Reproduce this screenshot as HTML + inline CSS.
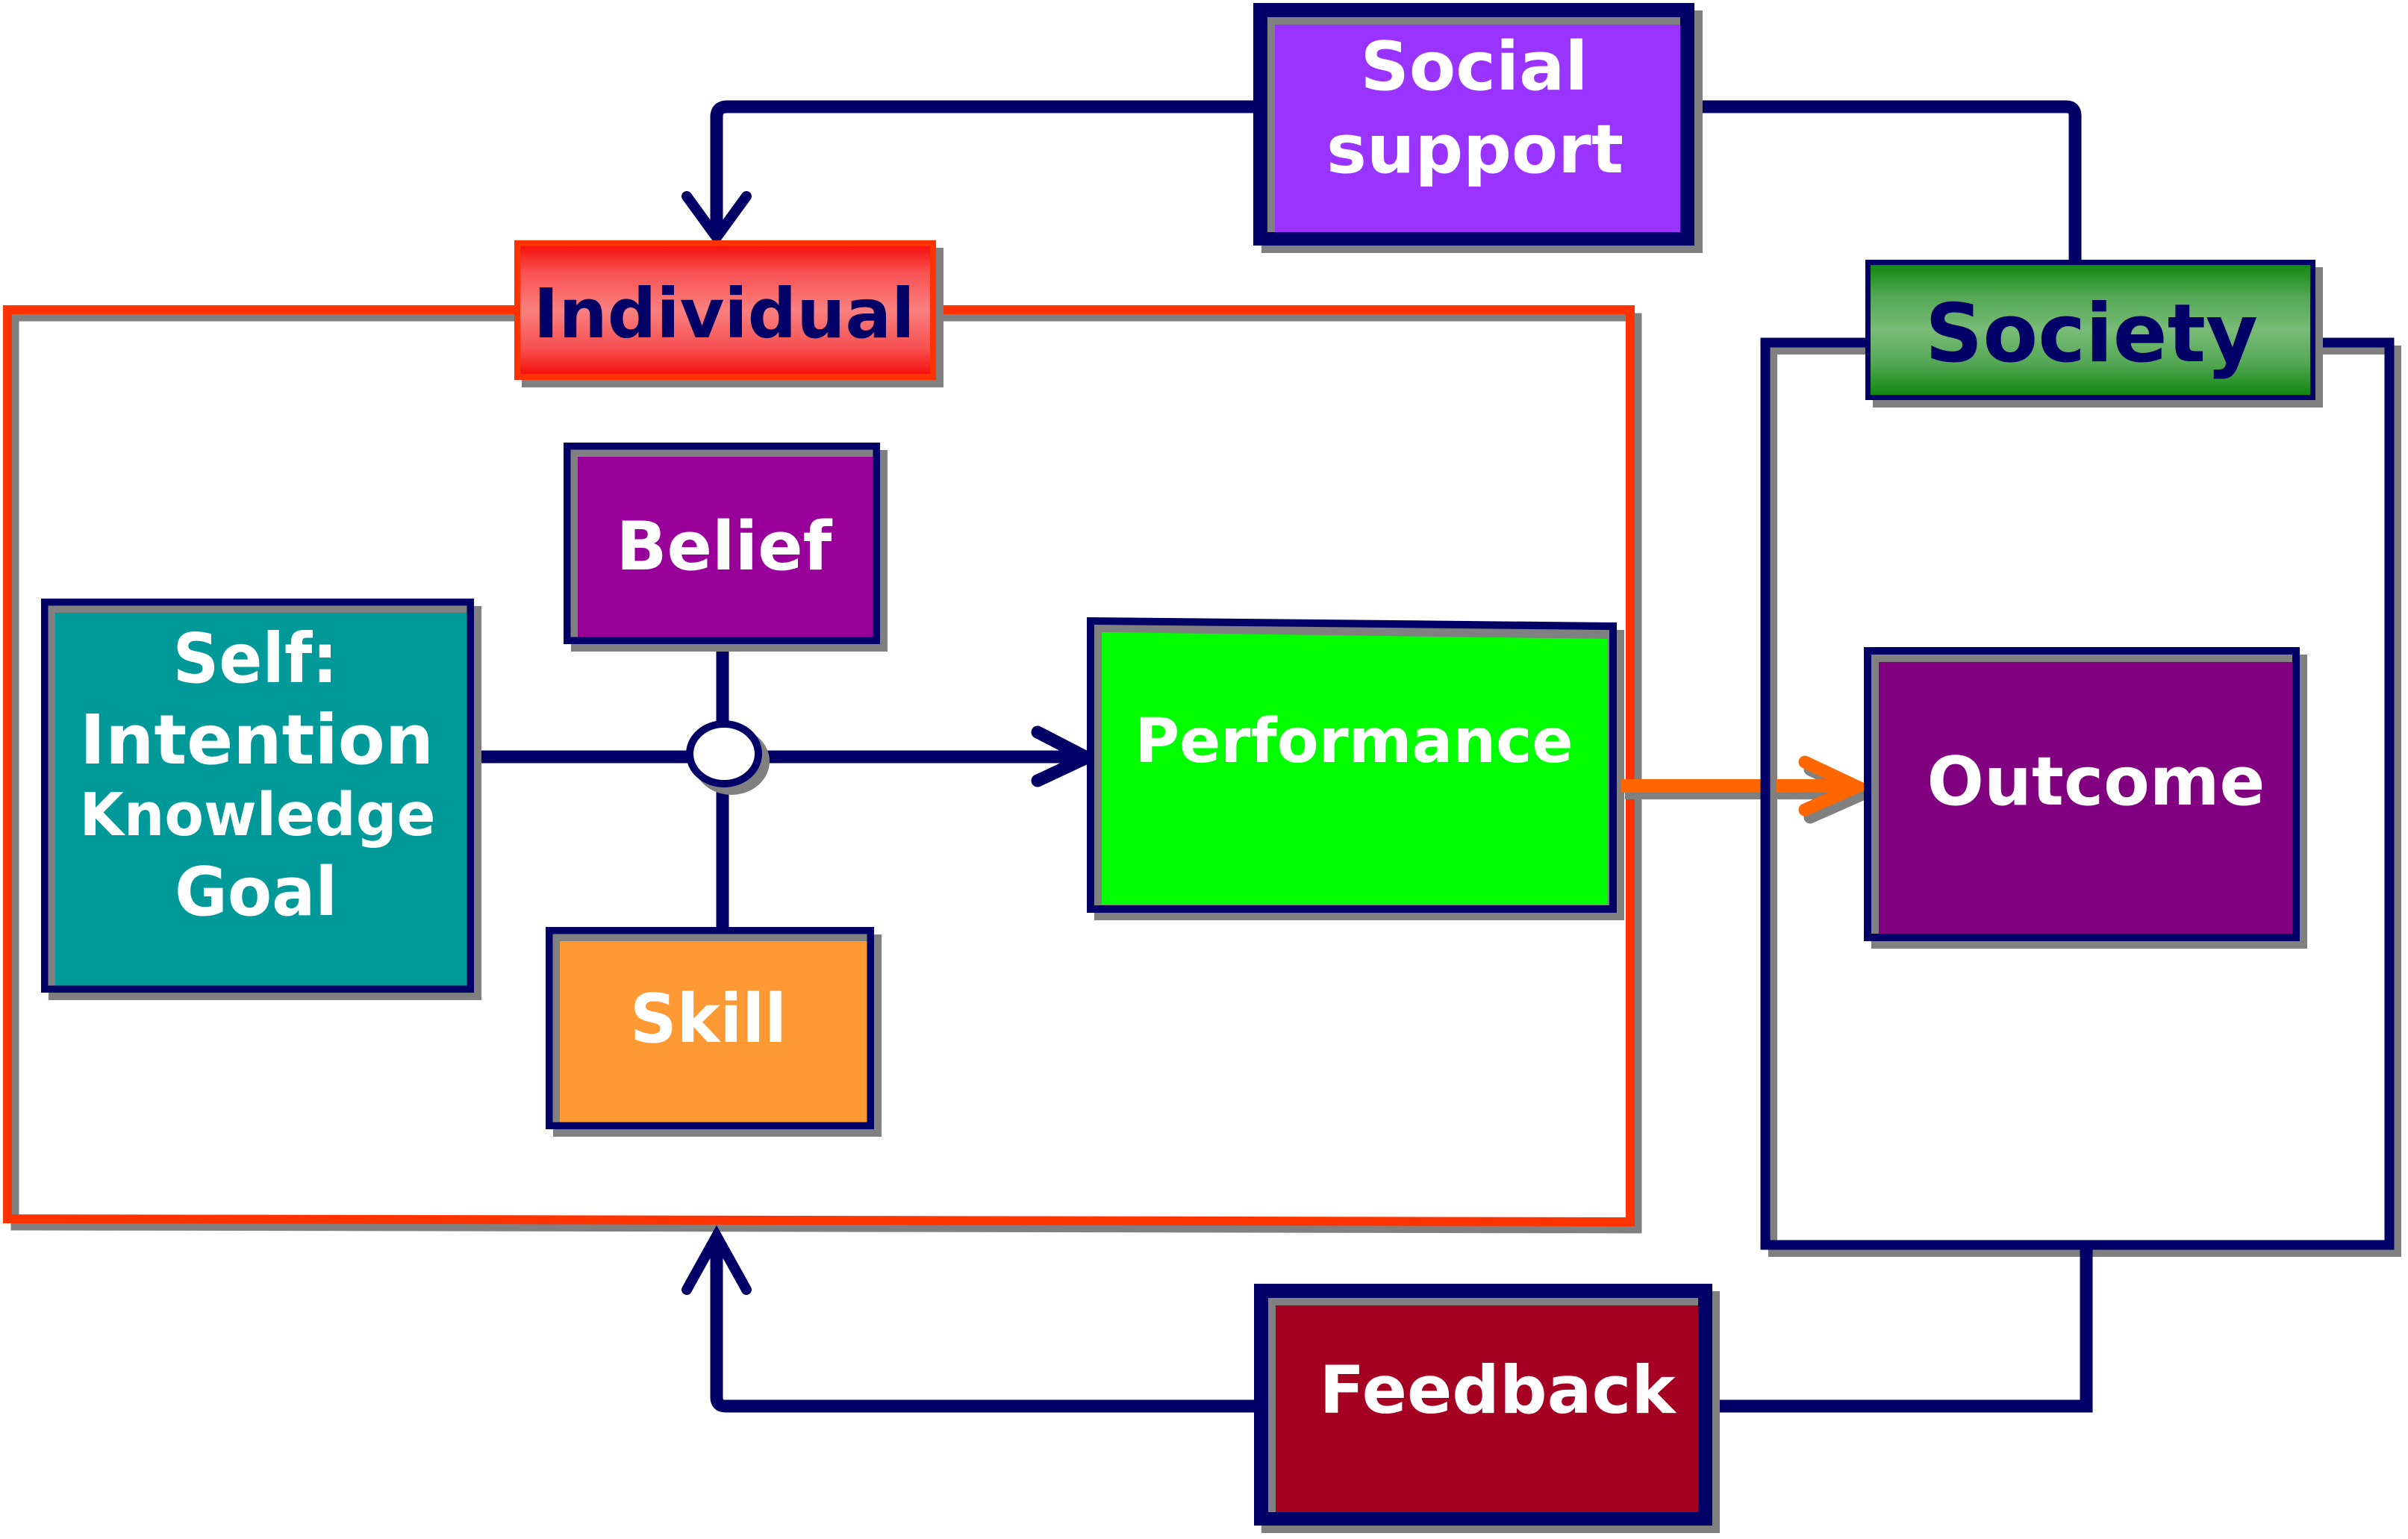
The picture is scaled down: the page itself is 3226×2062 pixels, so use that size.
<!DOCTYPE html>
<html>
<head>
<meta charset="utf-8">
<style>
html,body{margin:0;padding:0;background:#fff;}
svg{display:block;}
text{font-family:"DejaVu Sans","Liberation Sans",sans-serif;font-weight:bold;}
</style>
</head>
<body>
<svg width="3226" height="2062" viewBox="0 0 3226 2062" xmlns="http://www.w3.org/2000/svg">
<defs>
<linearGradient id="gi" x1="0" y1="0" x2="0" y2="1">
<stop offset="0" stop-color="#F5120F"/>
<stop offset="0.2" stop-color="#F85050"/>
<stop offset="0.5" stop-color="#FA8080"/>
<stop offset="0.8" stop-color="#F85050"/>
<stop offset="1" stop-color="#F5120F"/>
</linearGradient>
<linearGradient id="gs" x1="0" y1="0" x2="0" y2="1">
<stop offset="0" stop-color="#118811"/>
<stop offset="0.25" stop-color="#55A855"/>
<stop offset="0.5" stop-color="#78BB78"/>
<stop offset="0.75" stop-color="#55A855"/>
<stop offset="1" stop-color="#118811"/>
</linearGradient>
</defs>
<rect x="0" y="0" width="3226" height="2062" fill="#fff"/>

<!-- Individual frame -->
<path d="M20,425 H2194 V1647 L20,1643 Z" fill="none" stroke="#808080" stroke-width="11"/>
<path d="M10,415 H2184 V1637 L10,1633 Z" fill="none" stroke="#FF3300" stroke-width="12"/>

<!-- Society frame -->
<path d="M2375,469 H3211 V1678 H2375 Z" fill="none" stroke="#808080" stroke-width="12"/>
<path d="M2365,459 H3201 V1668 H2365 Z" fill="none" stroke="#000066" stroke-width="13"/>

<!-- Top connectors -->
<path d="M1690,143 H974 Q960,143 960,157 V318" fill="none" stroke="#000066" stroke-width="17"/>
<path d="M920,263 L960,318 L1000,263" fill="none" stroke="#000066" stroke-width="14" stroke-linecap="round" stroke-linejoin="miter"/>
<path d="M2260,143 H2768 Q2780,143 2780,155 V352" fill="none" stroke="#000066" stroke-width="17"/>

<!-- Bottom connectors -->
<path d="M1690,1884 H972 Q960,1884 960,1872 V1658" fill="none" stroke="#000066" stroke-width="17"/>
<path d="M920,1728 L960,1656 L1000,1728" fill="none" stroke="#000066" stroke-width="14" stroke-linecap="round"/>
<path d="M2285,1884 H2795 V1672" fill="none" stroke="#000066" stroke-width="17"/>

<!-- Social support -->
<rect x="1690" y="14" width="591" height="325" fill="#808080"/>
<rect x="1679" y="4" width="591" height="325" fill="#000066"/>
<rect x="1698" y="23" width="553" height="288" fill="#808080"/>
<rect x="1708" y="33" width="543" height="278" fill="#9933FF"/>
<text x="1975" y="120" font-size="90" fill="#fff" text-anchor="middle" textLength="305" lengthAdjust="spacingAndGlyphs">Social</text>
<text x="1976" y="231" font-size="90" fill="#fff" text-anchor="middle" textLength="398" lengthAdjust="spacingAndGlyphs">support</text>

<!-- Individual -->
<rect x="699" y="332" width="565" height="187" fill="#808080"/>
<rect x="689" y="322" width="565" height="187" fill="#FF3300"/>
<rect x="697" y="330" width="549" height="171" fill="url(#gi)"/>
<text x="970" y="452" font-size="92" fill="#000066" text-anchor="middle" textLength="511" lengthAdjust="spacingAndGlyphs">Individual</text>

<!-- Society -->
<rect x="2509" y="358" width="603" height="188" fill="#808080"/>
<rect x="2499" y="348" width="603" height="188" fill="#000066"/>
<rect x="2506" y="355" width="589" height="174" fill="url(#gs)"/>
<text x="2802" y="484" font-size="108" fill="#000066" text-anchor="middle" textLength="446" lengthAdjust="spacingAndGlyphs">Society</text>

<!-- Inner connectors -->
<line x1="640" y1="1014" x2="1450" y2="1014" stroke="#000066" stroke-width="17"/>
<line x1="968" y1="860" x2="968" y2="1245" stroke="#000066" stroke-width="17"/>
<path d="M1390,981 L1456,1015 L1390,1046" fill="none" stroke="#000066" stroke-width="17" stroke-linecap="round"/>
<ellipse cx="980" cy="1020" rx="46" ry="40" fill="#808080" stroke="#808080" stroke-width="10"/>
<ellipse cx="970" cy="1010" rx="46" ry="40" fill="#fff" stroke="#000066" stroke-width="10"/>

<!-- Self -->
<rect x="65" y="812" width="580" height="528" fill="#808080"/>
<rect x="55" y="802" width="580" height="528" fill="#000066"/>
<rect x="64.5" y="811.5" width="561" height="509" fill="#808080"/>
<rect x="74" y="821" width="551.5" height="499.5" fill="#009999"/>
<text x="342" y="914" font-size="92" fill="#fff" text-anchor="middle" textLength="221" lengthAdjust="spacingAndGlyphs">Self:</text>
<text x="344" y="1023" font-size="92" fill="#fff" text-anchor="middle" textLength="474" lengthAdjust="spacingAndGlyphs">Intention</text>
<text x="345" y="1119" font-size="79" fill="#fff" text-anchor="middle" textLength="477" lengthAdjust="spacingAndGlyphs">Knowledge</text>
<text x="343" y="1226" font-size="90" fill="#fff" text-anchor="middle" textLength="218" lengthAdjust="spacingAndGlyphs">Goal</text>

<!-- Belief -->
<rect x="765" y="603" width="424" height="270" fill="#808080"/>
<rect x="755" y="593" width="424" height="270" fill="#000066"/>
<rect x="764.5" y="602.5" width="405" height="251" fill="#808080"/>
<rect x="774" y="612" width="395.5" height="241.5" fill="#990099"/>
<text x="970" y="763" font-size="90" fill="#fff" text-anchor="middle" textLength="289" lengthAdjust="spacingAndGlyphs">Belief</text>

<!-- Skill -->
<rect x="741" y="1252" width="440" height="271" fill="#808080"/>
<rect x="731" y="1242" width="440" height="271" fill="#000066"/>
<rect x="740.5" y="1251.5" width="421" height="252" fill="#808080"/>
<rect x="750" y="1261" width="411.5" height="242.5" fill="#FF9933"/>
<text x="949" y="1396" font-size="90" fill="#fff" text-anchor="middle" textLength="210" lengthAdjust="spacingAndGlyphs">Skill</text>

<!-- Performance -->
<polygon points="1466,837 2176,844 2176,1233 1466,1233" fill="#808080"/>
<polygon points="1456,827 2166,834 2166,1223 1456,1223" fill="#000066"/>
<polygon points="1466,837 2156,844 2156,1213 1466,1213" fill="#808080"/>
<polygon points="1476,847 2154,856 2154,1212 1476,1212" fill="#00FF00"/>
<text x="1814" y="1021" font-size="82" fill="#fff" text-anchor="middle" textLength="587" lengthAdjust="spacingAndGlyphs">Performance</text>

<!-- Orange arrow -->
<line x1="2177" y1="1063" x2="2485" y2="1063" stroke="#808080" stroke-width="16"/>
<path d="M2425,1031 L2495,1064 L2425,1095" fill="none" stroke="#808080" stroke-width="17" stroke-linecap="round"/>
<line x1="2172" y1="1053" x2="2480" y2="1053" stroke="#FF6600" stroke-width="18"/>
<path d="M2418,1021 L2488,1054 L2418,1085" fill="none" stroke="#FF6600" stroke-width="17" stroke-linecap="round"/>
<!-- society frame left line over orange -->
<line x1="2375" y1="1040" x2="2375" y2="1075" stroke="#808080" stroke-width="10"/>
<line x1="2365" y1="1040" x2="2365" y2="1075" stroke="#000066" stroke-width="13"/>

<!-- Outcome -->
<rect x="2507" y="877" width="584" height="394" fill="#808080"/>
<rect x="2497" y="867" width="584" height="394" fill="#000066"/>
<rect x="2507" y="877" width="564" height="374" fill="#808080"/>
<rect x="2517" y="887" width="554" height="364" fill="#800080"/>
<text x="2808" y="1078" font-size="90" fill="#fff" text-anchor="middle" textLength="453" lengthAdjust="spacingAndGlyphs">Outcome</text>

<!-- Feedback -->
<rect x="1690" y="1730" width="614" height="324" fill="#808080"/>
<rect x="1680" y="1720" width="614" height="324" fill="#000066"/>
<rect x="1699" y="1739" width="576" height="287" fill="#808080"/>
<rect x="1709" y="1749" width="566" height="277" fill="#A50021"/>
<text x="2006" y="1893" font-size="88" fill="#fff" text-anchor="middle" textLength="477" lengthAdjust="spacingAndGlyphs">Feedback</text>
</svg>
</body>
</html>
